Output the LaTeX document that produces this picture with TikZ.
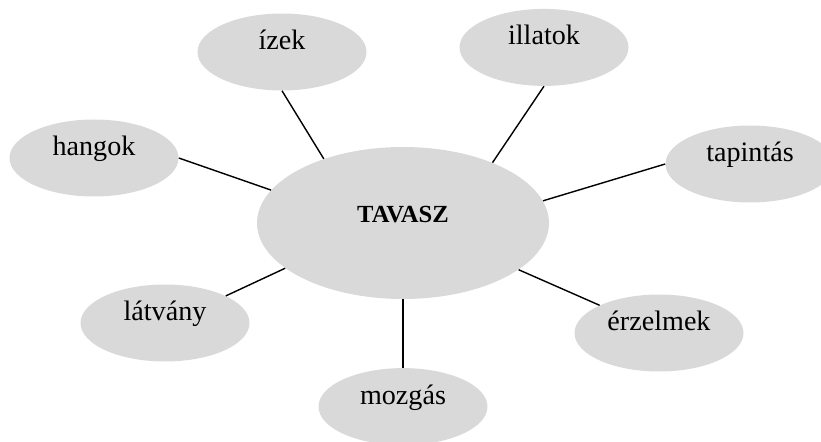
\documentclass[tikz,border=0pt]{standalone}
\usepackage{fontspec}
\setmainfont{Liberation Serif}
\usetikzlibrary{shapes}

\begin{document}
\begin{tikzpicture}[
  bubble/.style={ellipse, fill=black!15, minimum width=4.225cm, minimum height=1.925cm,
    inner sep=0pt, text height=0.5cm, text depth=0.625cm, font=\fontsize{20}{24}\selectfont},
  hub/.style={ellipse, fill=black!15, minimum width=7.3cm, minimum height=3.8cm,
    inner sep=0pt, text height=0.4cm, text depth=0.4cm, font=\fontsize{17.5}{21}\selectfont\bfseries},
  spoke/.style={line width=1pt}]
  \useasboundingbox (0,0) rectangle (20.525,11.025);

  \node[hub] (tavasz) at (10.075,5.45) {TAVASZ};
  \node[bubble] (izek) at (7.05,9.725) {ízek};
  \node[bubble] (illatok) at (13.6,9.84) {illatok};
  \node[bubble] (hangok) at (2.35,7.075) {hangok};
  \node[bubble] (tapintas) at (18.75,6.925) {tapintás};
  \node[bubble] (latvany) at (4.125,2.95) {látvány};
  \node[bubble] (erzelmek) at (16.475,2.7) {érzelmek};
  \node[bubble] (mozgas) at (10.075,0.86) {mozgás};

  \foreach \n/\a/\b in {izek/south/141, illatok/south/34, hangok/east/166,
      tapintas/west/9, latvany/24/201, erzelmek/155/338, mozgas/north/270} {
    \draw[spoke] (\n.\a) -- (tavasz.\b);
  };
\end{tikzpicture}
\end{document}
